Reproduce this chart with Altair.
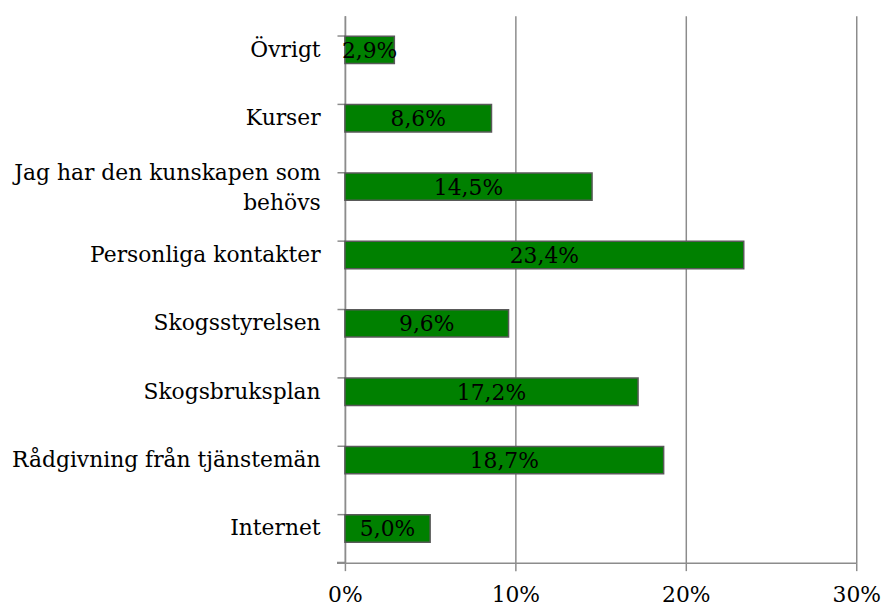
import altair as alt
import pandas as pd

categories = [
    "Övrigt",
    "Kurser",
    "Jag har den kunskapen som behövs",
    "Personliga kontakter",
    "Skogsstyrelsen",
    "Skogsbruksplan",
    "Rådgivning från tjänstemän",
    "Internet",
]
values = [2.9, 8.6, 14.5, 23.4, 9.6, 17.2, 18.7, 5.0]
x_ticks = [0, 0.1, 0.2, 0.3]

df = pd.DataFrame({"cat": categories, "v": [v / 100 for v in values]})
df["label"] = [f"{v:.1f}%".replace(".", ",") for v in values]

FONT = "DejaVu Serif"
FS = 22
W, H = 516, 552
LONG = "Jag har den kunskapen som behövs"

base = alt.Chart(df)

bars = base.mark_bar(color="#008000", stroke="#595959", strokeWidth=1.5).encode(
    x=alt.X(
        "v:Q",
        scale=alt.Scale(domain=[0, 0.3], nice=False),
        axis=alt.Axis(
            values=x_ticks,
            format="%",
            title=None,
            grid=True,
            gridColor="#8c8c8c",
            gridWidth=1.5,
            domainColor="#8c8c8c",
            domainWidth=1.5,
            tickColor="#8c8c8c",
            tickWidth=1.5,
            tickSize=8,
            labelFont=FONT,
            labelFontSize=FS,
            labelColor="black",
            labelPadding=14,
            labelFlush=False,
            labelOverlap=False,
        ),
    ),
    y=alt.Y(
        "cat:N",
        sort=categories,
        scale=alt.Scale(paddingInner=0.6, paddingOuter=0.3),
        axis=alt.Axis(
            title=None,
            bandPosition=0,
            domainColor="#8c8c8c",
            domainWidth=1.5,
            tickColor="#8c8c8c",
            tickWidth=1.5,
            tickSize=8,
            labelFont=FONT,
            labelFontSize=FS,
            labelColor="black",
            labelPadding=17,
            labelLineHeight=31,
            labelLimit=400,
            labelOffset={"condition": {"test": f"datum.value == '{LONG}'", "value": -14}, "value": 0},
            labelExpr=f"datum.label == '{LONG}' ? ['Jag har den kunskapen som', 'behövs'] : datum.label",
        ),
    ),
)

text = base.mark_text(font=FONT, fontSize=FS, color="black", dy=1).encode(
    x=alt.X("mid:Q"),
    y=alt.Y("cat:N", sort=categories),
    text="label:N",
).transform_calculate(mid="datum.v / 2")

bottom_tick = alt.Chart(df).mark_rule(color="#8c8c8c", strokeWidth=1.5).encode(
    x=alt.value(-8), x2=alt.value(0), y=alt.value(H)
)

chart = (
    alt.layer(bars, text, bottom_tick)
    .properties(
        width=W,
        height=H,
        padding={"left": 340, "top": 5, "right": 27, "bottom": 50},
        autosize="none",
        background="white",
    )
    .configure_view(stroke=None)
)

chart.save("out.html", embed_options={"renderer": "svg", "actions": False})
